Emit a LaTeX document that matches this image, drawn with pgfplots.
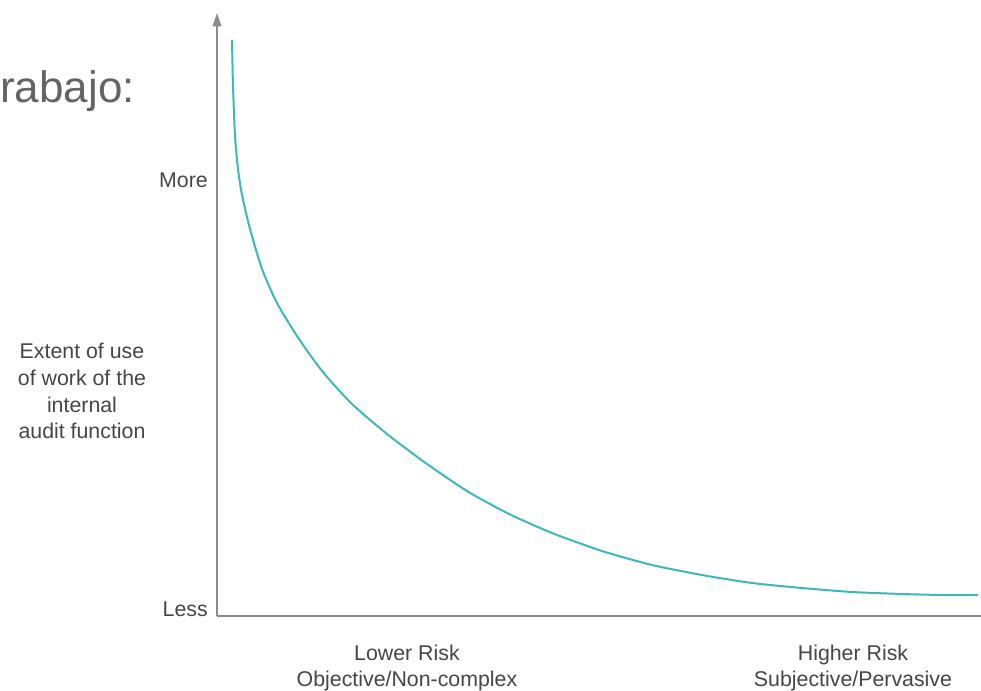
\documentclass[border=0pt]{standalone}
\usepackage{pgfplots}
\pgfplotsset{compat=1.18}
\usepackage{fontspec}
\setmainfont{Liberation Sans}
\usetikzlibrary{arrows.meta}
\definecolor{curve}{RGB}{60,185,185}
\definecolor{axisgray}{RGB}{140,140,140}
\definecolor{txt}{RGB}{70,70,70}
\definecolor{big}{RGB}{100,100,100}
\tikzset{lbl/.style={font=\fontsize{16}{19}\selectfont, text=txt, inner sep=0pt}}
\begin{document}
\begin{tikzpicture}[x=0.75pt,y=0.75pt]
\useasboundingbox (0,0) rectangle (981,690);
\node[anchor=base west, inner sep=0, text=big, font=\fontsize{33}{40}\selectfont] at (0,587) {rabajo:};
\begin{axis}[
  at={(162.75pt,55.5pt)}, anchor=origin,
  scale only axis, width=573pt, height=452.25pt,
  xmin=0, xmax=764, ymin=0, ymax=603,
  axis lines=left,
  axis line style={axisgray, line width=1.2pt},
  y axis line style={-{Triangle[length=10pt,width=6.5pt]}, draw=axisgray},
  x axis line style={-},
  xtick=\empty, ytick=\empty,
  clip=false,
]
\addplot[curve, line width=1.5pt, smooth, tension=0.4] coordinates {
(15,576) (16,530) (18,480) (21,447) (25,421) (33,387) (45,347) (60,313)
(80,280) (105,245) (135,212) (170,182) (210,152) (250,125) (290,103) (335,83)
(385,65) (435,51) (485,41) (535,33) (585,28) (635,24) (685,22) (725,21) (761,21)
};
\node[lbl, anchor=base east] at (axis cs:-9,428) {More};
\node[lbl, anchor=base east] at (axis cs:-9,0) {Less};
\node[lbl, anchor=base] at (axis cs:-135,258) {Extent of use};
\node[lbl, anchor=base] at (axis cs:-135,231) {of work of the};
\node[lbl, anchor=base] at (axis cs:-135,204) {internal};
\node[lbl, anchor=base] at (axis cs:-135,178) {audit function};
\node[lbl, anchor=base] at (axis cs:190,-44) {Lower Risk};
\node[lbl, anchor=base] at (axis cs:190,-70) {Objective/Non-complex};
\node[lbl, anchor=base] at (axis cs:636,-44) {Higher Risk};
\node[lbl, anchor=base] at (axis cs:636,-70) {Subjective/Pervasive};
\end{axis}
\end{tikzpicture}
\end{document}
